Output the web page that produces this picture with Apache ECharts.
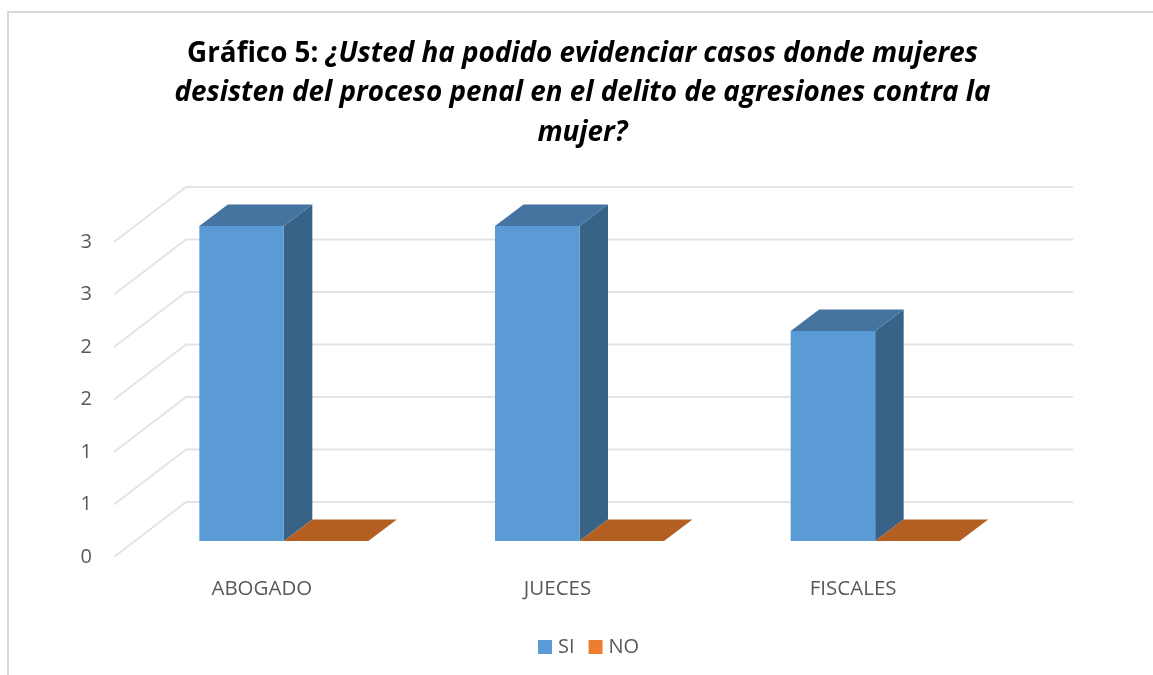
<!DOCTYPE html>
<html>
<head>
<meta charset="utf-8">
<style>html,body{margin:0;padding:0;background:#fff}#c{width:1153px;height:675px}</style>
<script src="https://cdn.jsdelivr.net/npm/echarts@6/dist/echarts.min.js"></script>
</head>
<body>
<div id="c"></div>
<script>
const categories = ['ABOGADO', 'JUECES', 'FISCALES'];
const siValues = [3, 3, 2];
const noValues = [0, 0, 0];
const yTicks = [0, 0.5, 1, 1.5, 2, 2.5, 3];
const yTickLabels = ['0', '1', '1', '2', '2', '3', '3'];
const titlePrefix = 'Gráfico 5: ';
const titleLines = [
  '¿Usted ha podido evidenciar casos donde mujeres',
  'desisten del proceso penal en el delito de agresiones contra la',
  'mujer?'
];

const FONT = '"Open Sans", sans-serif';
const WALL = [72, -55];      // depth of the whole floor
const SHIFT = [22, -16];     // offset of the bars' front plane
const BAR_DEPTH = [28.5, -21.5];
const BAR_RATIO = 0.2858;

function gridItem(params, api) {
  const cs = params.coordSys;
  const y = api.coord([0, api.value(1)])[1];
  return {
    type: 'polyline', silent: true,
    shape: { points: [[cs.x, y], [cs.x + WALL[0], y + WALL[1]], [cs.x + cs.width + WALL[0], y + WALL[1]]] },
    style: { fill: null, stroke: '#E4E4E4', lineWidth: 2 }
  };
}

function barItem(side, topColor, sideColor) {
  return function (params, api) {
    const w = api.size([1, 0])[0] * BAR_RATIO;
    const base = api.coord([api.value(0), 0]);
    const top = api.coord([api.value(0), api.value(1)]);
    const x0 = base[0] + SHIFT[0] + (side === 0 ? -w : 0);
    const x1 = x0 + w;
    const yb = base[1] + SHIFT[1];
    const yt = top[1] + SHIFT[1];
    const dx = BAR_DEPTH[0], dy = BAR_DEPTH[1];
    const color = api.visual('color');
    const poly = (pts, fill) => ({ type: 'polygon', shape: { points: pts }, style: { fill: fill } });
    const children = [];
    if (yb - yt > 0.5) {
      children.push(poly([[x1, yb], [x1 + dx, yb + dy], [x1 + dx, yt + dy], [x1, yt]], sideColor));
      children.push(poly([[x0, yb], [x1, yb], [x1, yt], [x0, yt]], color));
    }
    children.push(poly([[x0, yt], [x1, yt], [x1 + dx, yt + dy], [x0 + dx, yt + dy]], topColor));
    return { type: 'group', children: children };
  };
}

const chart = echarts.init(document.getElementById('c'), null, { renderer: 'canvas' });
chart.setOption({
  animation: false,
  backgroundColor: '#fff',
  title: {
    left: 577.5, top: 29, textAlign: 'center',
    text: '{b|' + titlePrefix + '}{i|' + titleLines[0] + '}\n{i|' + titleLines[1] + '}\n{i|' + titleLines[2] + '}',
    textStyle: {
      fontFamily: FONT,
      rich: {
        b: { fontFamily: FONT, fontSize: 27.8, fontWeight: 'bold', color: '#000', lineHeight: 39.5 },
        i: { fontFamily: FONT, fontSize: 27.8, fontWeight: 'bold', fontStyle: 'italic', color: '#000', lineHeight: 39.5 }
      }
    }
  },
  legend: {
    left: 538, top: 637, data: ['SI', 'NO'], itemWidth: 14, itemHeight: 14, itemGap: 14, icon: 'rect',
    padding: 0, selectedMode: false,
    textStyle: { fontFamily: FONT, fontSize: 20, color: '#595959', padding: [0, 0, 0, 1] }
  },
  grid: { left: 114, top: 242, width: 887, height: 315 },
  xAxis: {
    type: 'category', data: categories,
    axisLine: { show: false }, axisTick: { show: false }, splitLine: { show: false },
    axisLabel: { fontFamily: FONT, fontSize: 20.5, color: '#595959', margin: 22 }
  },
  yAxis: {
    type: 'value', min: 0, max: 3, interval: 0.5,
    axisLine: { show: false }, axisTick: { show: false }, splitLine: { show: false },
    axisLabel: {
      fontFamily: FONT, fontSize: 20, color: '#595959', margin: 22,
      formatter: function (v) { return yTickLabels[yTicks.indexOf(v)]; }
    }
  },
  graphic: [{
    type: 'polyline', silent: true, z: -1,
    shape: { points: [[8, 680], [8, 12], [1160, 12]] },
    style: { fill: null, stroke: '#D9D9D9', lineWidth: 2 }
  }],
  series: [
    { type: 'custom', name: 'grid', silent: true, clip: false, z: 1, renderItem: gridItem,
      encode: { x: 0, y: 1 }, data: yTicks.map(t => [0, t]) },
    { type: 'custom', name: 'SI', clip: false, z: 2, itemStyle: { color: '#5B9BD5' },
      renderItem: barItem(0, '#44749F', '#386387'), encode: { x: 0, y: 1 },
      data: siValues.map((v, i) => [i, v]) },
    { type: 'custom', name: 'NO', clip: false, z: 3, itemStyle: { color: '#ED7D31' },
      renderItem: barItem(1, '#B55E22', '#B55E22'), encode: { x: 0, y: 1 },
      data: noValues.map((v, i) => [i, v]) }
  ]
});
</script>
</body>
</html>
